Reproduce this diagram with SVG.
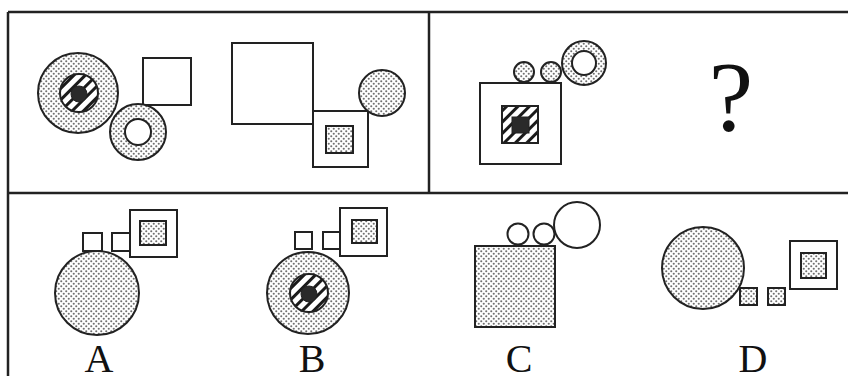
<svg xmlns="http://www.w3.org/2000/svg" width="848" height="376" viewBox="0 0 848 376">
<defs>
<pattern id="dots" width="5" height="5" patternUnits="userSpaceOnUse">
<rect width="5" height="5" fill="#ffffff"/>
<circle cx="1.25" cy="1.25" r="1.05" fill="#707070"/>
<circle cx="3.75" cy="3.75" r="1.05" fill="#707070"/>
</pattern>
<pattern id="hatch" width="8" height="8" patternUnits="userSpaceOnUse" patternTransform="rotate(-45)">
<rect width="8" height="8" fill="#ffffff"/>
<rect x="0" y="0" width="8" height="3" fill="#1a1a1a"/>
</pattern>
</defs>
<style>
.s{stroke:#222;stroke-width:2;fill:#fff}
.d{stroke:#222;stroke-width:2;fill:url(#dots)}
.h{stroke:#222;stroke-width:2;fill:url(#hatch)}
.k{stroke:#222;stroke-width:1;fill:#2a2a2a}
.frame{stroke:#222;stroke-width:2.5;fill:none}
.lbl{font-family:"Liberation Serif","Times New Roman",serif;font-size:40px;fill:#111;text-anchor:middle}
</style>
<rect width="848" height="376" fill="#fff"/>
<g id="frame">
<line class="frame" x1="8" y1="12" x2="848" y2="12"/>
<line class="frame" x1="8" y1="12" x2="8" y2="376"/>
<line class="frame" x1="8" y1="193" x2="848" y2="193"/>
<line class="frame" x1="429" y1="12" x2="429" y2="193"/>
</g>
<g id="fig1">
<rect class="s" x="143" y="58" width="48" height="47"/>
<circle class="d" cx="78" cy="93" r="40"/>
<circle class="h" cx="79" cy="93" r="19"/>
<circle class="k" cx="79" cy="94" r="8"/>
<circle class="d" cx="138" cy="132" r="28"/>
<circle class="s" cx="138" cy="132" r="13"/>
</g>
<g id="fig2">
<rect class="s" x="232" y="43" width="81" height="81"/>
<rect class="s" x="313" y="111" width="55" height="56"/>
<rect class="d" x="326" y="126" width="27" height="27"/>
<circle class="d" cx="382" cy="93" r="23"/>
</g>
<g id="fig3">
<rect class="s" x="480" y="83" width="81" height="81"/>
<rect class="h" x="502" y="106" width="36" height="37"/>
<rect class="k" x="512" y="117" width="17" height="16"/>
<circle class="d" cx="524" cy="72" r="10"/>
<circle class="d" cx="551" cy="72" r="10"/>
<circle class="d" cx="584" cy="63" r="22"/>
<circle class="s" cx="584" cy="63" r="12"/>
</g>
<g id="question">
<text x="731" y="130" style="font-family:'Liberation Serif','Times New Roman',serif;font-size:100px;fill:#111" text-anchor="middle">?</text>
</g>
<g id="optA">
<circle class="d" cx="97" cy="293" r="42"/>
<rect class="s" x="83" y="233" width="19" height="18"/>
<rect class="s" x="112" y="233" width="18" height="18"/>
<rect class="s" x="130" y="210" width="47" height="47"/>
<rect class="d" x="140" y="221" width="26" height="24"/>
<text class="lbl" x="99" y="372">A</text>
</g>
<g id="optB">
<circle class="d" cx="308" cy="293" r="41"/>
<circle class="h" cx="309" cy="293" r="19"/>
<circle class="k" cx="309" cy="294" r="8"/>
<rect class="s" x="295" y="232" width="17" height="17"/>
<rect class="s" x="323" y="232" width="17" height="17"/>
<rect class="s" x="340" y="208" width="47" height="48"/>
<rect class="d" x="352" y="220" width="25" height="23"/>
<text class="lbl" x="312" y="372">B</text>
</g>
<g id="optC">
<rect class="d" x="475" y="246" width="80" height="81"/>
<circle class="s" cx="518" cy="234" r="10.5"/>
<circle class="s" cx="544" cy="234" r="10.5"/>
<circle class="s" cx="577" cy="225" r="23"/>
<text class="lbl" x="519" y="372">C</text>
</g>
<g id="optD">
<circle class="d" cx="703" cy="268" r="41"/>
<rect class="d" x="740" y="288" width="17" height="17"/>
<rect class="d" x="768" y="288" width="17" height="17"/>
<rect class="s" x="790" y="241" width="47" height="48"/>
<rect class="d" x="801" y="253" width="25" height="25"/>
<text class="lbl" x="753" y="372">D</text>
</g>
</svg>
